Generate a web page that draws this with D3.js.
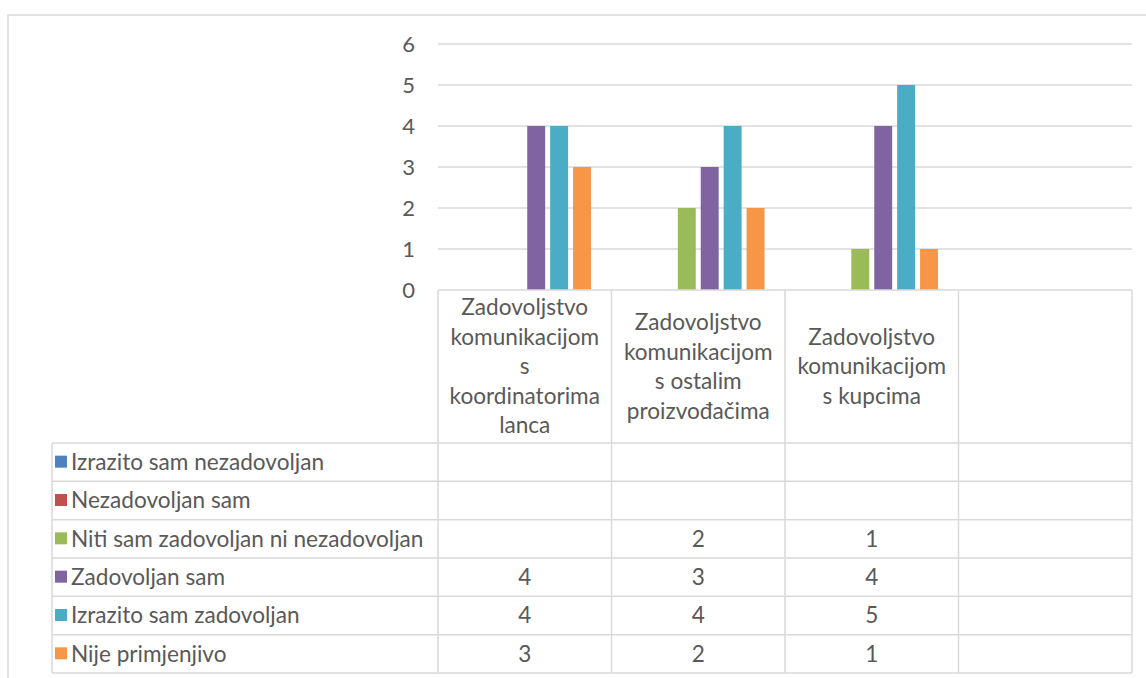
<!DOCTYPE html>
<html>
<head>
<meta charset="utf-8">
<script src="https://cdn.jsdelivr.net/npm/d3@7"></script>
<style>
  body { margin: 0; background: #fff; }
  svg { display: block; font-family: Lato, "Open Sans", sans-serif; }
</style>
</head>
<body>
<svg id="chart" width="1146" height="678"></svg>
<script>
// categories (last one is an empty column in the original)
var categories = [
  "Zadovoljstvo\nkomunikacijom\ns\nkoordinatorima\nlanca",
  "Zadovoljstvo\nkomunikacijom\ns ostalim\nproizvođačima",
  "Zadovoljstvo\nkomunikacijom\ns kupcima",
  ""
];
var seriesNames = [
  "Izrazito sam nezadovoljan",
  "Nezadovoljan sam",
  "Niti sam zadovoljan ni nezadovoljan",
  "Zadovoljan sam",
  "Izrazito sam zadovoljan",
  "Nije primjenjivo"
];
var colors = ["#4f81bd", "#c0504d", "#9bbb59", "#8064a2", "#4bacc6", "#f79646"];
var izrazitoNezadovoljan = [null, null, null, null];
var nezadovoljan = [null, null, null, null];
var niti = [null, 2, 1, null];
var zadovoljan = [4, 3, 4, null];
var izrazitoZadovoljan = [4, 4, 5, null];
var nijePrimjenjivo = [3, 2, 1, null];
var yTicks = [0, 1, 2, 3, 4, 5, 6];

var values = [izrazitoNezadovoljan, nezadovoljan, niti, zadovoljan, izrazitoZadovoljan, nijePrimjenjivo];

var svg = d3.select("#chart");
var gridCol = "#d9d9d9", textCol = "#595959", fs = 22.6;

// outer frame
svg.append("path").attr("d", "M8,678V15H1146").attr("fill", "none").attr("stroke", gridCol).attr("stroke-width", 1.5);

var plotL = 438, plotR = 1132, tableL = 52;
var x0 = d3.scaleBand().domain(d3.range(categories.length)).range([plotL, plotR]);
var y = d3.scaleLinear().domain([0, 6]).range([290, 44]);
var groupPad = 18;
var x1 = d3.scaleBand().domain(d3.range(seriesNames.length))
  .range([groupPad, x0.bandwidth() - groupPad]).paddingInner(0.217).paddingOuter(0.1085);

// gridlines
svg.append("g").selectAll("line").data(yTicks.slice(1)).join("line")
  .attr("x1", plotL).attr("x2", plotR)
  .attr("y1", d => y(d)).attr("y2", d => y(d))
  .attr("stroke", gridCol).attr("stroke-width", 1.5);

// y axis labels
svg.append("g").selectAll("text").data(yTicks).join("text")
  .attr("x", 415).attr("y", d => y(d)).attr("dy", "0.35em")
  .attr("text-anchor", "end").attr("fill", textCol).attr("font-size", 22)
  .text(d => d);

// bars
var cells = [];
values.forEach(function(arr, s) {
  arr.forEach(function(v, c) { if (v != null) cells.push({s: s, c: c, v: v}); });
});
svg.append("g").selectAll("rect").data(cells).join("rect")
  .attr("x", d => x0(d.c) + x1(d.s))
  .attr("width", x1.bandwidth())
  .attr("y", d => y(d.v))
  .attr("height", d => y(0) - y(d.v))
  .attr("fill", d => colors[d.s]);

// data table
var headTop = 290, headBot = 443, rowH = (673 - 443) / seriesNames.length;
var tg = svg.append("g").attr("stroke", gridCol).attr("stroke-width", 1.5);
tg.append("line").attr("x1", plotL).attr("x2", plotR).attr("y1", headTop).attr("y2", headTop);
d3.range(seriesNames.length + 1).forEach(function(i) {
  var yy = headBot + i * rowH;
  tg.append("line").attr("x1", tableL).attr("x2", plotR).attr("y1", yy).attr("y2", yy);
});
tg.append("line").attr("x1", tableL).attr("x2", tableL).attr("y1", headBot).attr("y2", 673);
d3.range(categories.length + 1).forEach(function(i) {
  var xx = plotL + i * x0.step();
  tg.append("line").attr("x1", xx).attr("x2", xx).attr("y1", headTop).attr("y2", 673);
});

// header labels
var lineH = 29.5;
categories.forEach(function(cat, c) {
  var lines = cat ? cat.split("\n") : [];
  var cx = x0(c) + x0.bandwidth() / 2;
  var mid = (headTop + headBot) / 2;
  svg.append("g").selectAll("text").data(lines).join("text")
    .attr("x", cx)
    .attr("y", (d, i) => mid + (i - (lines.length - 1) / 2) * lineH)
    .attr("dy", "0.35em").attr("text-anchor", "middle")
    .attr("fill", textCol).attr("font-size", fs)
    .text(d => d);
});

// row legend + values
seriesNames.forEach(function(name, s) {
  var cy = headBot + (s + 0.5) * rowH;
  svg.append("rect").attr("x", 55).attr("y", cy - 6.5).attr("width", 12).attr("height", 12).attr("fill", colors[s]);
  svg.append("text").attr("x", 71).attr("y", cy).attr("dy", "0.35em")
    .attr("fill", textCol).attr("font-size", fs).text(name);
  values[s].forEach(function(v, c) {
    if (v == null) return;
    svg.append("text").attr("x", x0(c) + x0.bandwidth() / 2).attr("y", cy).attr("dy", "0.35em")
      .attr("text-anchor", "middle").attr("fill", textCol).attr("font-size", fs).text(v);
  });
});
</script>
</body>
</html>
